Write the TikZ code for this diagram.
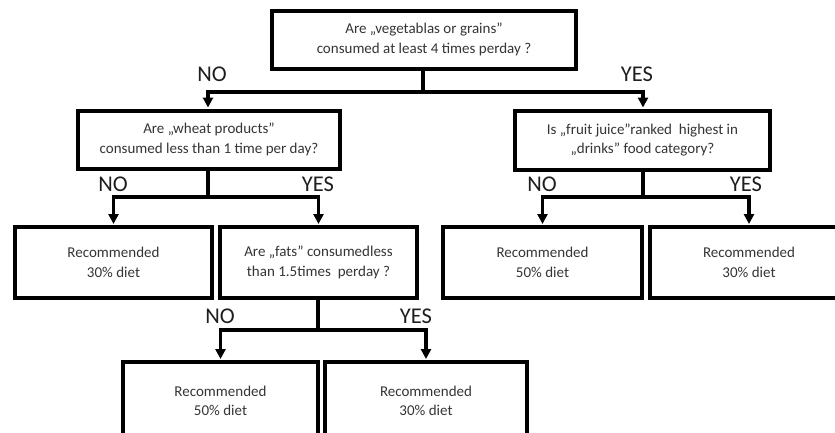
\documentclass[tikz,border=0pt]{standalone}
\usepackage{fontspec}
\setmainfont{Carlito}
\usetikzlibrary{arrows.meta}
\definecolor{txt}{HTML}{353535}
\definecolor{lab}{HTML}{1E1E1E}
\tikzset{
  box/.style={draw=black, line width=4pt, fill=white, rectangle, inner sep=0pt,
    align=center, text=txt, font=\fontsize{15}{19.5}\selectfont},
  conn/.style={draw=black, line width=3.5pt},
  arr/.style={conn, -{Triangle[length=10pt,width=10pt]}, shorten >=1pt},
  lbl/.style={text=lab, font=\fontsize{22.5}{24}\selectfont, inner sep=0pt}
}
\begin{document}
\begin{tikzpicture}[x=1pt,y=-1pt]
\useasboundingbox (0,0) rectangle (835,432);
\clip (0,0) rectangle (835,432);
% nodes
\node[box, minimum width=304pt, minimum height=58pt] (q1) at (424,39.5)
  {Are „vegetablas or grains”\\consumed at least 4 times perday ?};
\node[box, minimum width=262pt, minimum height=58pt] (q2) at (209,139.5)
  {Are „wheat products”\\consumed less than 1 time per day?};
\node[box, minimum width=255pt, minimum height=59pt] (q3) at (642.5,140)
  {Is „fruit juice”ranked\ \ highest in\\„drinks” food category?};
\node[box, minimum width=197pt, minimum height=71pt] (r1) at (113.5,262.5)
  {Recommended\\30\% diet};
\node[box, minimum width=197pt, minimum height=71pt] (q4) at (318.5,262.5)
  {Are „fats” consumedless\\than 1.5times\ \ perday ?};
\node[box, minimum width=199pt, minimum height=71pt] (r2) at (542.5,262.5)
  {Recommended\\50\% diet};
\node[box, minimum width=198pt, minimum height=71pt] (r3) at (749,262.5)
  {Recommended\\30\% diet};
\node[box, minimum width=195pt, minimum height=78pt] (r4) at (220.5,401)
  {Recommended\\50\% diet};
\node[box, minimum width=202pt, minimum height=78pt] (r5) at (426,401)
  {Recommended\\30\% diet};
% junctions
\coordinate (j1) at (423,92);
\coordinate (j2) at (208,197);
\coordinate (j3) at (643,197);
\coordinate (j4) at (318,330);
% connectors
\draw[conn] (q1.south -| j1) -- (j1);
\draw[arr] (j1) -| (q2.north -| j2);
\draw[arr] (j1) -| (q3.north -| j3);
\draw[conn] (q2.south -| j2) -- (j2);
\draw[arr] (j2) -| (r1.north);
\draw[arr] (j2) -| (q4.north);
\draw[conn] (q3.south -| j3) -- (j3);
\draw[arr] (j3) -| (r2.north);
\draw[arr] (j3) -| (r3.north);
\draw[conn] (q4.south -| j4) -- (j4);
\draw[arr] (j4) -| (r4.north);
\draw[arr] (j4) -| (r5.north);
% labels
\node[lbl] (n1) at (212,74) {NO};
\node[lbl] (y1) at (637,74) {YES};
\node[lbl] (n2) at (113,184) {NO};
\node[lbl] (y2) at (318,184) {YES};
\node[lbl] (n3) at (542,184) {NO};
\node[lbl] (y3) at (746,184) {YES};
\node[lbl] (n4) at (220,316) {NO};
\node[lbl] (y4) at (416,316) {YES};
\end{tikzpicture}
\end{document}
